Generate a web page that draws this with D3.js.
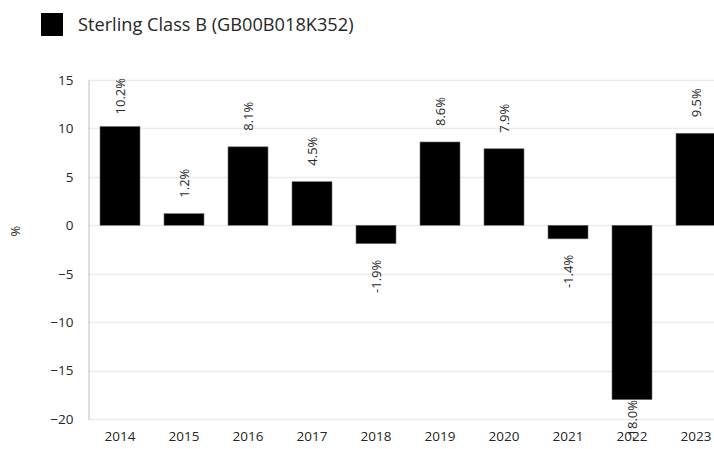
<!DOCTYPE html>
<html>
<head>
<meta charset="utf-8">
<script src="https://cdn.jsdelivr.net/npm/d3@7"></script>
<style>
  body { margin: 0; background: #fff; }
  svg { display: block; font-family: "Open Sans", sans-serif; }
</style>
</head>
<body>
<div id="container"></div>
<script>
const years = ["2014", "2015", "2016", "2017", "2018", "2019", "2020", "2021", "2022", "2023"];
const returns = [10.2, 1.2, 8.1, 4.5, -1.9, 8.6, 7.9, -1.4, -18.0, 9.5];
const yTicks = [15, 10, 5, 0, -5, -10, -15, -20];
const seriesName = "Sterling Class B (GB00B018K352)";

const width = 714;
const height = 449;
const plotLeft = 88;
const plotTop = 80;
const plotBottom = 419;

const svg = d3
  .select("#container")
  .append("svg")
  .attr("width", width)
  .attr("height", height);

const xScale = d3
  .scaleBand()
  .domain(years)
  .range([plotLeft, plotLeft + 640])
  .paddingInner(0.375)
  .paddingOuter(0.1875);

const yScale = d3.scaleLinear().domain([-20, 15]).range([plotBottom, plotTop]);

// gridlines
svg
  .append("g")
  .selectAll("line")
  .data(yTicks)
  .enter()
  .append("line")
  .attr("x1", plotLeft)
  .attr("x2", width)
  .attr("y1", (d) => Math.round(yScale(d)) + 0.5)
  .attr("y2", (d) => Math.round(yScale(d)) + 0.5)
  .attr("stroke", "#ececec")
  .attr("stroke-width", 1.5);

// y axis
const yAxis = d3.axisLeft(yScale).tickValues(yTicks).tickSize(0).tickPadding(15);
const yG = svg
  .append("g")
  .attr("transform", `translate(${plotLeft + 0.5}, 0)`)
  .call(yAxis);
yG.select(".domain").attr("stroke", "#bfbfbf");
yG.selectAll("text")
  .attr("font-family", "Open Sans, sans-serif")
  .attr("font-size", 13.5)
  .attr("fill", "#262626");

// x axis labels
const xAxis = d3.axisBottom(xScale).tickSize(0).tickPadding(0);
const xG = svg
  .append("g")
  .attr("transform", `translate(0, ${plotBottom + 12})`)
  .call(xAxis);
xG.select(".domain").remove();
xG.selectAll("text")
  .attr("font-family", "Open Sans, sans-serif")
  .attr("font-size", 13.5)
  .attr("fill", "#262626");

// y title
svg
  .append("text")
  .attr("transform", `translate(20, 231) rotate(-90)`)
  .attr("text-anchor", "middle")
  .attr("font-size", 13)
  .attr("fill", "#262626")
  .text("%");

// bars
svg
  .selectAll(".bar")
  .data(returns)
  .enter()
  .append("rect")
  .attr("class", "bar")
  .attr("x", (d, i) => xScale(years[i]))
  .attr("width", xScale.bandwidth())
  .attr("y", (d) => yScale(Math.max(0, d)))
  .attr("height", (d) => Math.abs(yScale(d) - yScale(0)))
  .attr("fill", "#000")
  .attr("stroke", "#6e6e6e")
  .attr("stroke-width", 0.6);

// value labels, rotated
const gap = 16;
svg
  .selectAll(".lbl")
  .data(returns)
  .enter()
  .append("text")
  .attr("class", "lbl")
  .attr("font-size", 13)
  .attr("fill", "#262626")
  .text((d) => `${d.toFixed(1)}%`)
  .each(function (d, i) {
    const t = d3.select(this);
    const len = this.getComputedTextLength();
    const cx = xScale(years[i]) + xScale.bandwidth() / 2;
    let yStart;
    if (d >= 0) {
      // text reads upward, start at bottom
      yStart = Math.max(yScale(d) - gap, plotTop + len - 2);
    } else {
      yStart = Math.min(yScale(d) + gap, plotBottom - 19) + len;
    }
    t.attr("text-anchor", "start")
      .attr("dominant-baseline", "central")
      .attr("transform", `translate(${cx}, ${yStart}) rotate(-90)`);
  });

// legend
svg
  .append("rect")
  .attr("x", 41)
  .attr("y", 13)
  .attr("width", 22)
  .attr("height", 23)
  .attr("fill", "#000");
svg
  .append("text")
  .attr("x", 78)
  .attr("y", 31)
  .attr("font-size", 18.2)
  .attr("fill", "#262626")
  .text(seriesName);
</script>
</body>
</html>
